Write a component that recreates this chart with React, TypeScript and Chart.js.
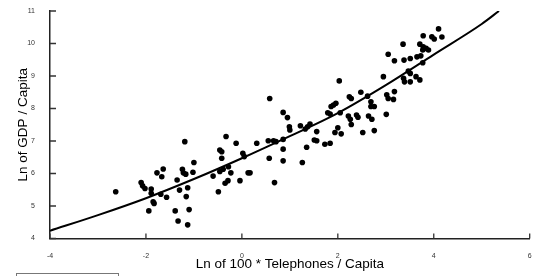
import React, { useEffect, useRef } from "react";
import { Chart, registerables } from "chart.js";

Chart.register(...registerables);

// Ln of 100 * Telephones / Capita
const telephones = [
  -2.63, -2.10, -2.07, -2.02, -1.89, -1.89, -1.85, -1.83, -1.94, -1.77,
  -1.64, -1.67, -1.69, -1.57, -1.35, -1.30, -1.39, -1.33, -1.24, -1.22,
  -1.17, -1.19, -1.13, -1.16, -1.10, -1.13, -1.02, -1.00, -0.60, -0.49,
  -0.46, -0.42, -0.42, -0.46, -0.39, -0.28, -0.33, -0.29, -0.35, -0.23,
  -0.12, -0.04, 0.02, 0.05, 0.13, 0.17, 0.31, 0.55, 0.66, 0.71,
  0.57, 0.58, 0.68, 0.86, 0.95, 0.99, 1.00, 0.86, 0.86, 0.86,
  1.22, 1.26, 1.32, 1.37, 1.42, 1.35, 1.51, 1.56, 1.56, 1.73,
  1.84, 1.79, 1.84, 1.86, 1.91, 1.96, 2.05, 2.00, 1.94, 2.07,
  2.03, 2.22, 2.26, 2.24, 2.28, 2.28, 2.39, 2.42, 2.48, 2.52,
  2.62, 2.64, 2.71, 2.69, 2.69, 2.76, 2.76, 2.95, 3.01, 3.02,
  3.05, 3.16, 3.18, 3.18, 3.05, 3.36, 3.38, 3.51, 3.65, 3.73,
  3.77, 3.47, 3.51, 3.37, 3.39, 3.51, 3.63, 3.71, 3.78, 3.71,
  3.78, 3.84, 3.89, 3.77, 3.96, 4.01, 4.17, 4.10,
];

// Ln of GDP / Capita
const gdp = [
  5.44, 5.72, 5.62, 5.54, 5.52, 5.39, 5.13, 5.08, 4.85, 6.02,
  6.14, 5.90, 5.36, 5.27, 5.80, 5.49, 4.85, 4.54, 6.13, 6.02,
  5.98, 6.98, 5.56, 5.29, 4.89, 4.42, 6.04, 6.34, 5.92, 5.44,
  6.72, 6.67, 6.47, 6.06, 6.13, 6.21, 7.14, 5.78, 5.70, 6.02,
  6.93, 5.78, 6.62, 6.52, 6.02, 6.02, 6.93, 7.01, 7.01, 6.98,
  6.47, 8.31, 5.72, 7.88, 7.72, 7.44, 7.34, 7.05, 6.75, 6.39,
  7.47, 6.34, 7.37, 7.44, 7.52, 6.81, 7.03, 7.01, 7.29, 6.90,
  6.93, 7.87, 7.83, 8.06, 8.11, 8.16, 7.87, 7.41, 7.26, 7.22,
  8.85, 7.77, 7.67, 8.36, 8.31, 7.51, 7.80, 7.73, 8.50, 7.26,
  8.38, 7.77, 7.67, 8.21, 8.06, 8.06, 7.32, 8.98, 7.82, 8.42,
  8.31, 8.28, 8.52, 9.47, 9.67, 9.98, 9.49, 9.54, 9.59, 9.62,
  9.41, 9.15, 9.08, 8.93, 8.82, 8.82, 8.98, 8.88, 10.24, 9.98,
  9.90, 9.85, 9.80, 9.80, 10.21, 10.14, 10.20, 10.45,
];

// Fitted curve
const fitX = [-4, -3, -2, -1, 0, 1, 2, 3, 4, 5, 5.36];
const fitY = [4.24, 4.72, 5.24, 5.83, 6.47, 7.15, 7.86, 8.72, 9.66, 10.6, 11.0];

const xTicks = [-4, -2, 0, 2, 4, 6];
const yTicks = [4, 5, 6, 7, 8, 9, 10, 11];

const xTitle = "Ln of 100 * Telephones / Capita";
const yTitle = "Ln of GDP / Capita";

const FONT = "'Liberation Sans', Arial, sans-serif";

export default function App() {
  const ref = useRef<HTMLCanvasElement | null>(null);

  useEffect(() => {
    if (!ref.current) return;
    const points = telephones.map((x, i) => ({ x, y: gdp[i] }));
    const curve = fitX.map((x, i) => ({ x, y: fitY[i] }));

    const inwardTicks = {
      id: "inwardTicks",
      afterDatasetsDraw(chart: any) {
        const { ctx, chartArea, scales } = chart;
        ctx.save();
        ctx.strokeStyle = "#333";
        ctx.lineWidth = 1.3;
        ctx.beginPath();
        xTicks.forEach((v) => {
          const px = scales.x.getPixelForValue(v);
          ctx.moveTo(px, chartArea.bottom);
          ctx.lineTo(px, chartArea.bottom - 5);
        });
        yTicks.forEach((v) => {
          const py = scales.y.getPixelForValue(v);
          ctx.moveTo(chartArea.left, py);
          ctx.lineTo(chartArea.left + 6, py);
        });
        ctx.stroke();
        ctx.restore();
      },
    };

    const zeroPad = (s: any) => {
      s.paddingTop = 0;
      s.paddingBottom = 0;
      s.paddingLeft = 0;
      s.paddingRight = 0;
    };

    const chart = new Chart(ref.current, {
      type: "scatter",
      data: {
        datasets: [
          {
            type: "scatter",
            data: points,
            pointRadius: 2.8,
            pointBackgroundColor: "#000",
            pointBorderWidth: 0,
            pointHoverRadius: 2.8,
          } as any,
          {
            type: "line",
            data: curve,
            borderColor: "#000",
            borderWidth: 2,
            pointRadius: 0,
            fill: false,
            cubicInterpolationMode: "monotone",
          } as any,
        ],
      },
      options: {
        animation: false,
        responsive: true,
        maintainAspectRatio: false,
        layout: { padding: { top: 11, right: 6.3, left: 0, bottom: 0 } },
        plugins: { legend: { display: false }, tooltip: { enabled: false } },
        scales: {
          x: {
            type: "linear",
            min: -4,
            max: 6,
            afterBuildTicks: (s: any) => {
              s.ticks = xTicks.map((v) => ({ value: v }));
            },
            ticks: {
              font: { size: 7, family: FONT },
              color: "#333",
              padding: 5,
              maxRotation: 0,
              callback: (v: any) => String(v),
            },
            grid: { display: false },
            border: { display: true, color: "#222", width: 1.5 },
            title: {
              display: true,
              text: xTitle,
              font: { size: 13.5, family: FONT },
              color: "#000",
              padding: { top: 0, bottom: 3.5 },
            },
            afterFit: (s: any) => {
              s.height = 37.5;
              zeroPad(s);
            },
          },
          y: {
            type: "linear",
            min: 4,
            max: 11,
            afterBuildTicks: (s: any) => {
              s.ticks = yTicks.map((v) => ({ value: v }));
            },
            ticks: {
              font: { size: 7, family: FONT },
              color: "#333",
              padding: 7,
              callback: (v: any) => String(v),
            },
            grid: { display: false },
            border: { display: true, color: "#222", width: 1.5 },
            title: {
              display: true,
              text: yTitle,
              font: { size: 13.5, family: FONT },
              color: "#000",
              padding: { top: 15, bottom: 0 },
            },
            afterFit: (s: any) => {
              s.width = 50;
              zeroPad(s);
            },
          },
        },
      },
      plugins: [inwardTicks],
    });
    return () => chart.destroy();
  }, []);

  return (
    <div style={{ position: "fixed", left: 0, top: 0, width: 536, height: 276, background: "#fff" }}>
      <canvas ref={ref} />
      <div
        style={{
          position: "absolute",
          left: 16,
          top: 273,
          width: 103,
          height: 10,
          border: "1px solid #777",
          boxSizing: "border-box",
        }}
      />
    </div>
  );
}
